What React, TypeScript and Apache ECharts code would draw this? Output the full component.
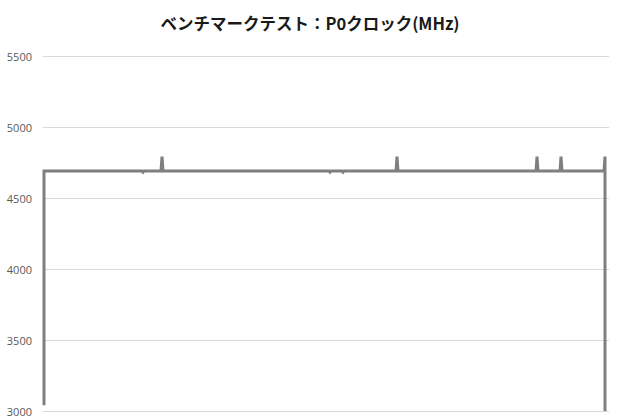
import React, { useEffect, useRef } from "react";
import * as echarts from "echarts";

const titleText = "ベンチマークテスト：P0クロック(MHz)";
const yMin = 3000;
const yMax = 5500;
const yStep = 500;

// sample index (time) and P0 clock readings
const sampleIndex = [1, 1, 99, 100, 101, 118, 119, 120, 286, 287, 288, 299, 300, 301, 353, 354, 355, 493, 494, 495, 517, 518, 519, 561, 562, 562];
const clockMHz = [3040, 4690, 4690, 4682, 4690, 4690, 4792, 4690, 4690, 4682, 4690, 4690, 4682, 4690, 4690, 4792, 4690, 4690, 4792, 4690, 4690, 4792, 4690, 4690, 4792, 3000];

export default function App() {
  const ref = useRef<HTMLDivElement>(null);
  useEffect(() => {
    if (!ref.current) return;
    const chart = echarts.init(ref.current, null, { renderer: "svg" });
    const data = sampleIndex.map((x, i) => [x, clockMHz[i]]);
    chart.setOption({
      animation: false,
      backgroundColor: "#ffffff",
      title: {
        text: titleText,
        left: "center",
        top: 10,
        textStyle: {
          fontFamily: "'Noto Sans CJK JP', 'Noto Sans', sans-serif",
          fontSize: 16.5,
          fontWeight: "bold",
          color: "#1a1a1a",
        },
      },
      grid: { left: 43, right: 11, top: 56, bottom: 9, containLabel: false },
      xAxis: {
        type: "value",
        min: 0,
        max: 566,
        axisLine: { show: false },
        axisTick: { show: false },
        axisLabel: { show: false },
        splitLine: { show: false },
      },
      yAxis: {
        type: "value",
        min: yMin,
        max: yMax,
        interval: yStep,
        axisLine: { show: false },
        axisTick: { show: false },
        axisLabel: {
          margin: 11,
          color: "#595959",
          fontSize: 11,
          fontFamily: "'Open Sans', 'Noto Sans', sans-serif",
          formatter: (v: number) => String(v),
        },
        splitLine: { lineStyle: { color: "#d9d9d9", width: 1 } },
      },
      series: [
        {
          type: "line",
          data,
          showSymbol: false,
          symbol: "none",
          lineStyle: { color: "#7f7f7f", width: 3, join: "miter" },
          clip: true,
        },
      ],
    });
    return () => chart.dispose();
  }, []);
  return (
    <div
      ref={ref}
      style={{ position: "fixed", left: 0, top: 0, width: 620, height: 420 }}
    />
  );
}
